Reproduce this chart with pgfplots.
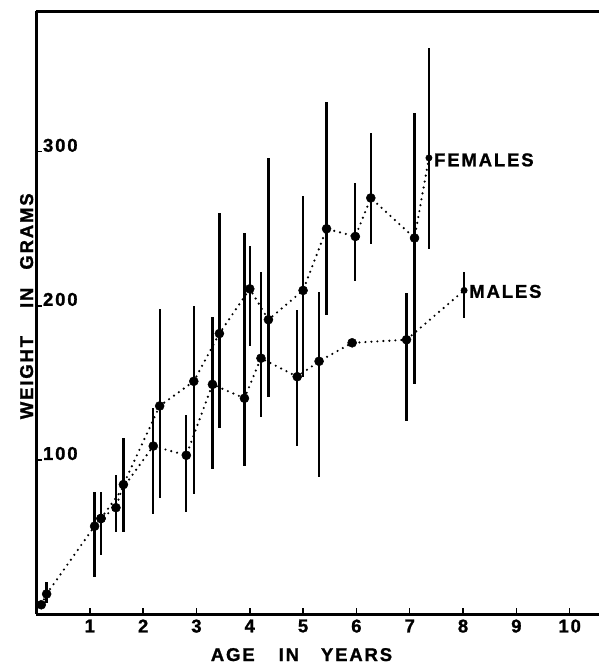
\documentclass[border=0pt]{standalone}
\usepackage{pgfplots}
\pgfplotsset{compat=1.18}
\usepackage{pgfplotstable}
\usepackage{fontspec}
\setmainfont{Liberation Sans}
\newfontfamily\lblfont{Liberation Sans Bold}[LetterSpace=10, FakeBold=1.2]
\newcommand\lf{\fontsize{18.5}{22}\lblfont}

% females: age, weight, error plus, error minus
\pgfplotstableread{
x y ep em
0.09 6 0 0
0.19 13 8 6
1.09 57 22 33
1.21 62 17 24
1.49 69 21 16
1.63 84 30 31
2.31 135 63 60
2.95 151 49 73
3.43 182 78 61
4.00 211 28 37
4.35 191 105 50
5.00 210 61 56
5.44 250 82 56
5.98 245 35 29
6.27 270 42 30
7.09 244 81 95
7.36 296 71 59
}\fem

% males
\pgfplotstableread{
x y ep em
1.21 62 0 0
2.19 109 25 44
2.81 103 26 37
3.30 149 44 55
3.90 140 107 44
4.21 166 56 38
4.89 154 43 45
5.30 164 45 75
5.92 176 0 0
6.94 178 30 53
8.02 210 12 18
}\mal

\begin{document}
\begin{tikzpicture}
\begin{axis}[
  scale only axis, width=562.5pt, height=602.5pt,
  xmin=0, xmax=10.55, ymin=0, ymax=391,
  enlargelimits=false, clip=false,
  axis x line=box, axis y line=left,
  axis line style={-, line width=3pt, black},
  y axis line style={-},
  xtick={1,2,3,4,5,6,7,8,9,10},
  xticklabels={1,2,3,4,5,6,7,8,9,10},
  xtick pos=left,
  ytick={100,200,300}, yticklabels={100,200,300},
  ytick pos=left,
  tick align=inside, major tick length=6pt,
  tick style={line width=1.5pt, black},
  xticklabel style={font=\lf, yshift=-2pt},
  yticklabel style={font=\lf, anchor=base west, xshift=3pt},
]
\addplot[black, line width=2.4pt, dash pattern=on 0pt off 6pt, line cap=round,
  mark=*, mark size=4.5pt, mark options={solid, fill=black, line width=0.5pt},
  mark indices={1,2,3,4,5,6,7,8,9,10,11,12,13,14,15,16},
  error bars/.cd, y dir=both, y explicit, error mark=none,
  error bar style={solid, line width=2.3pt, line cap=butt}]
  table[x=x, y=y, y error plus=ep, y error minus=em] {\fem};
\addplot[black, line width=2.4pt, dash pattern=on 0pt off 6pt, line cap=round,
  mark=*, mark size=4.5pt, mark options={solid, fill=black, line width=0.5pt},
  mark indices={1,2,3,4,5,6,7,8,9,10},
  error bars/.cd, y dir=both, y explicit, error mark=none,
  error bar style={solid, line width=2.3pt, line cap=butt}]
  table[x=x, y=y, y error plus=ep, y error minus=em] {\mal};
\addplot[only marks, black, mark=*, mark size=3.2pt] coordinates {(7.36,296) (8.02,210)};
\node[anchor=west, font=\lf, inner sep=0pt] at ([xshift=5pt, yshift=-2pt]axis cs:7.36,296) {FEMALES};
\node[anchor=west, font=\lf, inner sep=0pt] at ([xshift=5pt, yshift=-1pt]axis cs:8.02,210) {MALES};
\node[anchor=base, font=\lf] at ([yshift=-47pt]axis cs:4.97,0) {AGE\hspace{24pt}IN\hspace{22pt}YEARS};
\node[anchor=base, font=\lf, rotate=90] at ([xshift=-3.5pt]axis cs:0,199.7) {WEIGHT\hspace{28pt}IN\hspace{18pt}GRAMS};
\coordinate (SW) at (rel axis cs:0,0);
\coordinate (NE) at (rel axis cs:1,1);
\end{axis}
\pgfresetboundingbox
\path[use as bounding box] ([xshift=-36.5pt,yshift=-51pt]SW) rectangle ([yshift=11.5pt]NE);
\end{tikzpicture}
\end{document}
